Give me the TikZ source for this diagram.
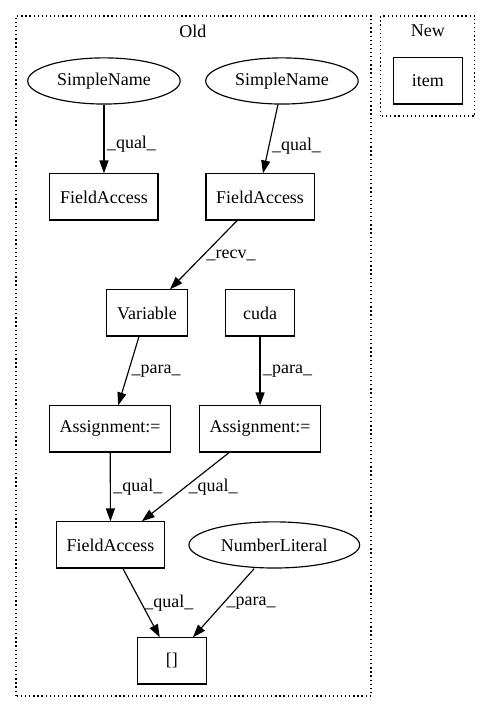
\documentclass[tikz,border=0pt]{standalone}
\usepackage{fontspec}
\setmainfont{Liberation Serif}
\usetikzlibrary{arrows.meta,shapes.geometric}
\tikzset{
	gvfont/.style={font=\fontsize{14}{16}\selectfont},
	opbox/.style={draw,rectangle,gvfont,minimum width=54pt,minimum height=36pt,inner xsep=8pt,line width=0.9pt},
	opell/.style={draw,ellipse,gvfont,minimum height=36pt,inner xsep=5.5pt,inner ysep=2pt,line width=0.9pt},
	elab/.style={right,gvfont,inner sep=2pt},
	cluster/.style={line width=0.9pt,dash pattern=on 1pt off 2.2pt},
}
\begin{document}
\begin{tikzpicture}[>={Triangle[length=10pt,width=7pt]},line width=0.9pt]
	\useasboundingbox (0,0) rectangle (13.46,19.52) ;
	% clusters
	\draw[cluster] (0.44,0.44) rectangle (10.17,19.08) ;
	\draw (5.29,18.67) node[gvfont]{Old} ;
	\draw[cluster] (10.44,16.34) rectangle (13.02,19.08) ;
	\draw (11.73,18.67) node[gvfont]{New} ;
	\node[opbox] (item) at (11.73,17.30) {item} ;
	% nodes of Old
	\node[opell] (sname1) at (2.85,17.30) {SimpleName} ;
	\node[opell] (sname2) at (7.73,17.30) {SimpleName} ;
	\node[opbox] (facc1) at (2.85,14.12) {FieldAccess} ;
	\node[opbox] (facc2) at (7.13,14.12) {FieldAccess} ;
	\node[opbox] (var) at (4.03,10.94) {Variable} ;
	\node[opbox] (cuda) at (7.13,10.94) {cuda} ;
	\node[opbox] (assign1) at (3.02,7.76) {Assignment:=} ;
	\node[opbox] (assign2) at (7.13,7.76) {Assignment:=} ;
	\node[opbox] (facc3) at (3.03,4.58) {FieldAccess} ;
	\node[opell] (numlit) at (7.52,4.58) {NumberLiteral} ;
	\node[opbox] (index) at (4.71,1.40) {[]} ;
	% edges
	\draw[->] (sname1) -- (facc1) node[elab,pos=0.57]{\_qual\_} ;
	\draw[->] ([xshift=-0.11cm]sname2.south) -- ([xshift=0.08cm]facc2.north) node[elab,pos=0.6]{\_qual\_} ;
	\draw[->] ([xshift=-0.63cm]facc2.south) -- ([xshift=0.63cm]var.north) node[elab,pos=0.5]{\_recv\_} ;
	\draw[->] ([xshift=-0.22cm]var.south) -- ([xshift=0.22cm]assign1.north) node[elab,pos=0.5]{\_para\_} ;
	\draw[->] (cuda) -- (assign2) node[elab,pos=0.5]{\_para\_} ;
	\draw[->] (assign1) -- (facc3) node[elab,pos=0.5]{\_qual\_} ;
	\draw[->] ([xshift=-0.85cm]assign2.south) -- ([xshift=0.86cm]facc3.north) node[elab,pos=0.5]{\_qual\_} ;
	\draw[->] ([xshift=0.34cm]facc3.south) -- ([xshift=-0.33cm]index.north) node[elab,pos=0.5]{\_qual\_} ;
	\draw[->] ([xshift=-0.55cm]numlit.south) -- ([xshift=0.58cm]index.north) node[elab,pos=0.5]{\_para\_} ;
\end{tikzpicture}
\end{document}
